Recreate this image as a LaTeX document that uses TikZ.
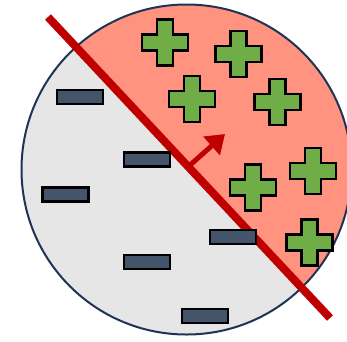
\documentclass[tikz,border=0pt]{standalone}
\usetikzlibrary{arrows.meta}
\definecolor{cgrey}{HTML}{E6E6E6}
\definecolor{csalmon}{HTML}{FF9380}
\definecolor{cnavy}{HTML}{1F3354}
\definecolor{cred}{HTML}{C00000}
\definecolor{cslate}{HTML}{44546A}
\definecolor{cgreen}{HTML}{70AD47}
\tikzset{
  minusbox/.style={draw=black, fill=cslate, line width=2.5pt, rectangle, minimum width=46pt, minimum height=14pt, inner sep=0pt},
  plusshape/.style={draw=black, fill=cgreen, line width=2.5pt, line join=miter},
  splitline/.style={draw=cred, line width=8pt},
  normalarrow/.style={draw=cred, line width=5pt, -{Triangle[length=18pt,width=24pt]}}
}
\begin{document}
\begin{tikzpicture}[x=1pt,y=-1pt]
\useasboundingbox (0,0) rectangle (347,341);
\clip (0,0) rectangle (347,341);
\coordinate (c) at (186.5,169.5);
\begin{scope}
  \clip (c) circle[radius=165];
  \fill[cgrey] (c) circle[radius=165];
  \fill[csalmon] (-234,-284) -- (612,619) -- (800,-284) -- cycle;
\end{scope}
\draw[cnavy, line width=2pt] (c) circle[radius=165];
\foreach \cx/\cy in {165/42.5, 238.5/54, 192/99, 277.5/102, 253/187.5, 313/171, 309.5/242.5}{
  \draw[plusshape] (\cx-8,\cy-23) -- (\cx+8,\cy-23) -- (\cx+8,\cy-8) -- (\cx+23,\cy-8) -- (\cx+23,\cy+8) -- (\cx+8,\cy+8) -- (\cx+8,\cy+23) -- (\cx-8,\cy+23) -- (\cx-8,\cy+8) -- (\cx-23,\cy+8) -- (\cx-23,\cy-8) -- (\cx-8,\cy-8) -- cycle;
}
\coordinate (l1) at (48,17);
\coordinate (l2) at (330,318);
\draw[splitline] (l1) -- (l2);
\coordinate (a1) at (189,166);
\coordinate (a2) at (225,134);
\draw[normalarrow] (a1) -- (a2);
\node[minusbox] (m1) at (80,97) {};
\node[minusbox] (m2) at (147,159.5) {};
\node[minusbox] (m3) at (65.5,194.5) {};
\node[minusbox] (m4) at (233,237) {};
\node[minusbox] (m5) at (147,262) {};
\node[minusbox] (m6) at (205,316) {};
\end{tikzpicture}
\end{document}
